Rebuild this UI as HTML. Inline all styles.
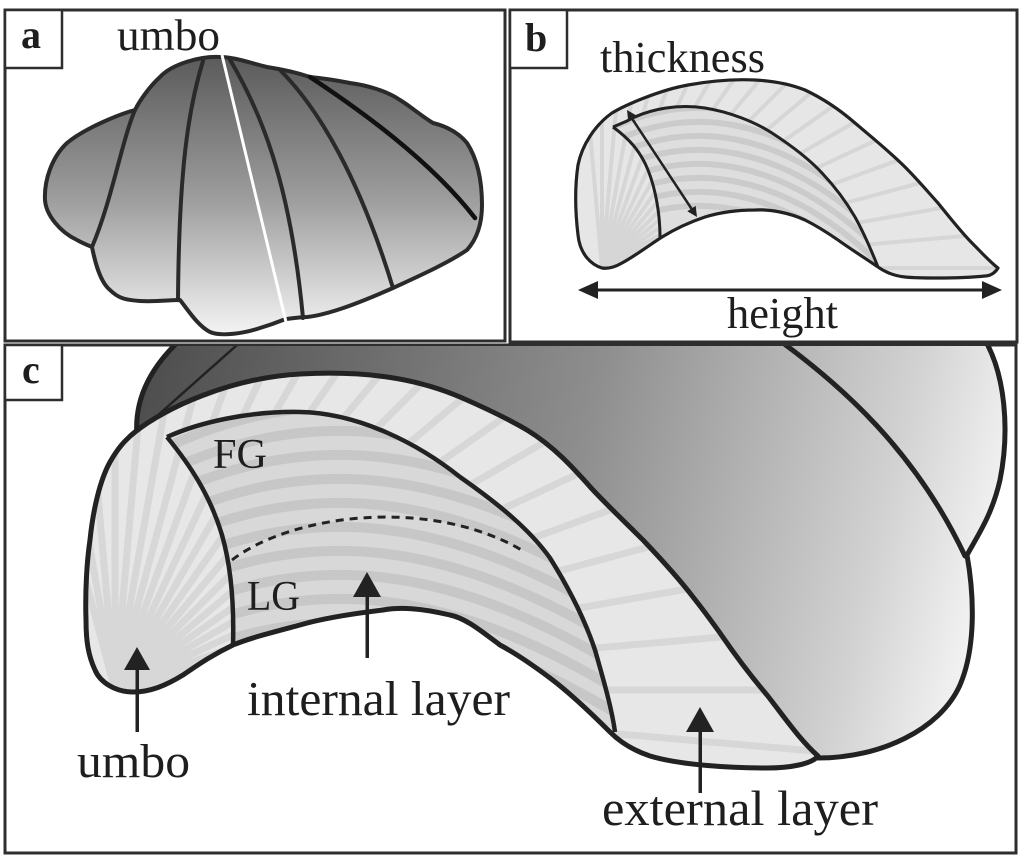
<!DOCTYPE html>
<html><head><meta charset="utf-8"><style>
html,body{margin:0;padding:0;background:#fff;}
svg{display:block;}
text{font-family:"Liberation Serif","Times New Roman",serif;fill:#1e1e1e;}
</style></head><body>
<svg width="1023" height="862" viewBox="0 0 1023 862" xmlns="http://www.w3.org/2000/svg">
<defs>
<linearGradient id="ga" x1="0" y1="60" x2="0" y2="335" gradientUnits="userSpaceOnUse">
<stop offset="0" stop-color="#5c5c5c"/><stop offset="0.5" stop-color="#9c9c9c"/><stop offset="1" stop-color="#f4f4f4"/>
</linearGradient>
<linearGradient id="gc" x1="150" y1="360" x2="1010" y2="560" gradientUnits="userSpaceOnUse">
<stop offset="0" stop-color="#4e4e4e"/><stop offset="0.5" stop-color="#8e8e8e"/><stop offset="0.85" stop-color="#d2d2d2"/><stop offset="1" stop-color="#f8f8f8"/>
</linearGradient>
<clipPath id="clipc"><rect x="6" y="346" width="1009" height="506"/></clipPath>
<clipPath id="valveb"><path d="M 602,268 C 592,265 580,255 578,235 C 575,210 575,185 578,165 C 582,145 595,125 612,113 C 625,105 660,90 688,85 C 710,81 735,79 755,80 C 775,81 790,84 805,90 C 822,98 840,110 855,123 C 875,140 890,152 905,167 C 918,180 928,192 938,203 C 950,218 962,233 972,243 C 982,253 990,262 998,268 C 995,273 990,276 985,276 C 965,278 950,278 938,278 C 925,278 915,278 905,277 C 895,276 885,272 878,267 C 865,258 852,250 838,240 C 825,231 815,225 805,220 C 790,213 770,209 755,210 C 735,210 718,213 705,217 C 690,222 675,229 662,237 C 648,246 635,256 622,263 C 615,267 608,269 602,268 Z"/></clipPath>
<clipPath id="innerb"><path d="M 613,127 L 627,121 C 650,108 680,104 705,108 C 730,112 755,122 772,133 C 795,148 810,160 822,173 C 838,190 848,205 855,217 C 865,235 872,252 878,267 C 865,258 852,250 838,240 C 825,231 815,225 805,220 C 790,213 770,209 755,210 C 735,210 718,213 705,217 C 690,222 675,229 662,237 C 660,215 656,190 648,170 C 640,150 628,138 613,127 Z"/></clipPath>
<clipPath id="valvec"><path d="M 135,432 C 165,408 230,378 300,374 C 370,370 420,380 460,397 C 490,410 510,420 527,430 C 555,447 575,470 593,490 C 610,508 628,525 643,540 C 662,560 680,580 693,597 C 705,612 712,622 720,633 C 735,655 750,675 767,695 C 785,718 800,740 818,756 C 812,764 790,768 767,768 C 730,768 680,765 650,756 C 632,750 620,742 610,732 C 590,712 570,693 550,678 C 530,663 515,653 500,645 C 480,630 465,618 450,615 C 420,608 400,607 383,610 C 350,614 320,619 300,625 C 270,633 250,638 233,645 C 210,656 195,667 183,675 C 165,686 150,692 133,692 C 115,692 100,682 95,670 C 88,655 86,640 86,620 C 85,590 87,560 90,540 C 93,510 100,480 110,462 C 118,448 125,440 135,432 Z"/></clipPath>
<clipPath id="innerc"><path d="M 167,437 C 200,422 250,411 300,412 C 360,413 420,445 460,477 C 500,505 530,530 550,558 C 570,590 585,620 595,650 C 605,685 612,710 615,732 C 595,715 570,693 550,678 C 530,663 515,653 500,645 C 480,630 465,618 450,615 C 420,608 400,607 383,610 C 350,614 320,619 300,625 C 270,633 250,638 233,645 C 234,610 232,570 222,535 C 210,495 190,465 167,437 Z"/></clipPath>
</defs>

<!-- Panel frames -->
<rect x="5" y="10" width="500" height="331" fill="#fff" stroke="#2e2e2e" stroke-width="3"/>
<rect x="510" y="10" width="507" height="332" fill="#fff" stroke="#2e2e2e" stroke-width="3"/>
<rect x="5" y="345" width="1011" height="508" fill="#fff" stroke="#2e2e2e" stroke-width="3"/>

<!-- ===== Panel a ===== -->
<path d="M 220,57 C 200,56 172,64 160,77 C 150,86 140,100 135,110 C 120,114 85,128 67,143 C 52,157 44,180 45,200 C 46,215 60,232 77,240 C 84,244 90,246 92,247 C 95,262 100,282 110,290 C 118,298 125,300 140,301 C 155,302 170,300 180,300 C 188,310 198,326 210,332 C 222,337 245,333 260,328 C 270,325 278,322 283,320 L 287,319 C 295,318 300,317 307,317 C 325,315 350,307 393,288 C 410,280 445,265 467,250 C 476,240 482,225 482,205 C 482,183 478,160 467,143 C 458,132 445,126 433,123 C 420,115 410,106 400,100 C 385,90 365,85 350,83 C 335,80 320,78 310,77 C 295,72 280,69 267,67 C 250,63 235,57 220,57 Z" fill="url(#ga)" stroke="#2a2a2a" stroke-width="4" stroke-linejoin="round"/>
<g fill="none" stroke="#2a2a2a" stroke-width="4" stroke-linecap="round">
<path d="M 135,110 C 122,140 112,200 92,247"/>
<path d="M 203,61 C 188,110 179,170 178,300"/>
<path d="M 229,58 C 260,110 290,180 303,318"/>
<path d="M 280,70 C 320,110 360,180 393,288"/>
<path d="M 310,77 C 360,110 430,160 475,218" stroke="#111" stroke-width="4.5"/>
</g>
<line x1="222" y1="55" x2="286" y2="322" stroke="#fff" stroke-width="3"/>
<rect x="5" y="10" width="57" height="58" fill="#fff" stroke="#2e2e2e" stroke-width="2.5"/>
<text x="21" y="48" font-size="40" font-weight="bold">a</text>
<text x="117" y="50" font-size="44" textLength="103" lengthAdjust="spacingAndGlyphs">umbo</text>

<!-- ===== Panel b ===== -->
<g clip-path="url(#valveb)">
<rect x="570" y="70" width="440" height="215" fill="#e6e6e6"/>
<path d="M602,268 L1102,268 M602,268 L1100,224 M602,268 L1094,181 M602,268 L1085,139 M602,268 L1072,97 M602,268 L1055,57 M602,268 L1035,18 M602,268 L1012,-19 M602,268 L985,-53 M602,268 L956,-86 M602,268 L923,-115 M602,268 L889,-142 M602,268 L852,-165 M602,268 L813,-185 M602,268 L773,-202 M602,268 L731,-215 M602,268 L689,-224 M602,268 L646,-230 M602,268 L602,-232 M602,268 L558,-230 M602,268 L1100,312" stroke="#d6d6d6" stroke-width="4" fill="none"/>
</g>
<g clip-path="url(#innerb)">
<rect x="600" y="95" width="290" height="185" fill="#dedede"/>
<g fill="none" stroke="#cbcbcb" stroke-width="6">
<path d="M 590,140 C 680,85 790,95 900,215"/>
<path d="M 590,154 C 680,99 790,109 900,229"/>
<path d="M 590,168 C 680,113 790,123 900,243"/>
<path d="M 590,182 C 680,127 790,137 900,257"/>
<path d="M 590,196 C 680,141 790,151 900,271"/>
<path d="M 590,210 C 680,155 790,165 900,285"/>
<path d="M 590,224 C 680,169 790,179 900,299"/>
<path d="M 590,238 C 680,183 790,193 900,313"/>
</g>
</g>
<path d="M 602,268 C 592,265 580,255 578,235 C 575,210 575,185 578,165 C 582,145 595,125 612,113 C 625,105 660,90 688,85 C 710,81 735,79 755,80 C 775,81 790,84 805,90 C 822,98 840,110 855,123 C 875,140 890,152 905,167 C 918,180 928,192 938,203 C 950,218 962,233 972,243 C 982,253 990,262 998,268 C 995,273 990,276 985,276 C 965,278 950,278 938,278 C 925,278 915,278 905,277 C 895,276 885,272 878,267 C 865,258 852,250 838,240 C 825,231 815,225 805,220 C 790,213 770,209 755,210 C 735,210 718,213 705,217 C 690,222 675,229 662,237 C 648,246 635,256 622,263 C 615,267 608,269 602,268 Z" fill="none" stroke="#222" stroke-width="3.2" stroke-linejoin="round"/>
<g fill="none" stroke="#222" stroke-width="3">
<path d="M 613,127 L 627,121 C 650,108 680,104 705,108 C 730,112 755,122 772,133 C 795,148 810,160 822,173 C 838,190 848,205 855,217 C 865,235 872,252 878,267"/>
<path d="M 613,127 C 628,138 640,150 648,170 C 656,190 660,215 660,237"/>
</g>
<!-- thickness arrow -->
<line x1="631" y1="117" x2="693" y2="211" stroke="#222" stroke-width="2.5"/>
<polygon points="627,110 636.7,115.7 628.3,121.1" fill="#222"/>
<polygon points="697,217 695.7,205.9 687.3,211.3" fill="#222"/>
<!-- height arrow -->
<line x1="592" y1="290" x2="988" y2="290" stroke="#222" stroke-width="3"/>
<polygon points="578,290 598,281 598,299" fill="#222"/>
<polygon points="1002,290 982,281 982,299" fill="#222"/>
<rect x="510" y="10" width="57" height="58" fill="#fff" stroke="#2e2e2e" stroke-width="2.5"/>
<text x="525" y="51" font-size="40" font-weight="bold">b</text>
<text x="600" y="72" font-size="44" textLength="165" lengthAdjust="spacingAndGlyphs">thickness</text>
<text x="727" y="328" font-size="44" textLength="111" lengthAdjust="spacingAndGlyphs">height</text>

<!-- ===== Panel c ===== -->
<g clip-path="url(#clipc)">
<path d="M 137,436 C 134,400 150,368 180,340 L 985,340 C 1005,375 1010,430 1000,480 C 992,515 978,535 967,555 C 975,600 975,650 960,685 C 940,730 880,758 818,758 L 560,560 L 137,436 Z" fill="url(#gc)"/>
<g fill="none" stroke="#222" stroke-width="5" stroke-linecap="round">
<path d="M 137,436 C 134,400 150,368 180,340"/>
<path d="M 985,340 C 1005,375 1010,430 1000,480 C 992,515 978,535 967,555 C 975,600 975,650 960,685 C 940,730 880,758 818,758"/>
<path d="M 783,343 C 840,385 915,450 965,556"/>
</g>
<line x1="148" y1="424" x2="237" y2="345" stroke="#222" stroke-width="2.5"/>
</g>
<g clip-path="url(#valvec)">
<rect x="80" y="360" width="760" height="420" fill="#e7e7e7"/>
<path d="M115,690 L1111,777 M115,690 L1115,690 M115,690 L1111,603 M115,690 L1100,516 M115,690 L1081,431 M115,690 L1055,348 M115,690 L1021,267 M115,690 L981,190 M115,690 L934,116 M115,690 L881,47 M115,690 L822,-17 M115,690 L758,-76 M115,690 L689,-129 M115,690 L615,-176 M115,690 L538,-216 M115,690 L457,-250 M115,690 L374,-276 M115,690 L289,-295 M115,690 L202,-306 M115,690 L115,-310 M115,690 L28,-306 M115,690 L-59,-295 M115,690 L-144,-276" stroke="#d7d7d7" stroke-width="7" fill="none"/>
</g>
<g clip-path="url(#innerc)">
<rect x="160" y="400" width="470" height="340" fill="#d8d8d8"/>
<g fill="none" stroke="#c7c7c7" stroke-width="10">
<path d="M 150,431 C 300,356 450,361 660,501"/>
<path d="M 150,455 C 300,380 450,385 660,525"/>
<path d="M 150,479 C 300,404 450,409 660,549"/>
<path d="M 150,503 C 300,428 450,433 660,573"/>
<path d="M 150,527 C 300,452 450,457 660,597"/>
<path d="M 150,551 C 300,476 450,481 660,621"/>
<path d="M 150,575 C 300,500 450,505 660,645"/>
<path d="M 150,599 C 300,524 450,529 660,669"/>
<path d="M 150,623 C 300,548 450,553 660,693"/>
<path d="M 150,647 C 300,572 450,577 660,717"/>
<path d="M 150,671 C 300,596 450,601 660,741"/>
<path d="M 150,695 C 300,620 450,625 660,765"/>
</g>
</g>
<!-- valve outline -->
<path d="M 135,432 C 165,408 230,378 300,374 C 370,370 420,380 460,397 C 490,410 510,420 527,430 C 555,447 575,470 593,490 C 610,508 628,525 643,540 C 662,560 680,580 693,597 C 705,612 712,622 720,633 C 735,655 750,675 767,695 C 785,718 800,740 818,756 C 812,764 790,768 767,768 C 730,768 680,765 650,756 C 632,750 620,742 610,732 C 590,712 570,693 550,678 C 530,663 515,653 500,645 C 480,630 465,618 450,615 C 420,608 400,607 383,610 C 350,614 320,619 300,625 C 270,633 250,638 233,645 C 210,656 195,667 183,675 C 165,686 150,692 133,692 C 115,692 100,682 95,670 C 88,655 86,640 86,620 C 85,590 87,560 90,540 C 93,510 100,480 110,462 C 118,448 125,440 135,432 Z" fill="none" stroke="#222" stroke-width="5" stroke-linejoin="round"/>
<g fill="none" stroke="#222" stroke-width="4.5">
<path d="M 167,437 C 200,422 250,411 300,412 C 360,413 420,445 460,477 C 500,505 530,530 550,558 C 570,590 585,620 595,650 C 605,685 612,710 615,732"/>
<path d="M 167,437 C 190,465 210,495 222,535 C 232,570 234,610 233,645"/>
</g>
<path d="M 232,560 C 290,515 430,495 525,552" fill="none" stroke="#222" stroke-width="3" stroke-dasharray="8,6"/>
<!-- arrows c -->
<g fill="#222">
<rect x="135.5" y="665" width="3.5" height="67"/>
<polygon points="137,647 124,670 150,670"/>
<rect x="365.5" y="590" width="3.5" height="68"/>
<polygon points="367,572 353,597 381,597"/>
<rect x="698.5" y="725" width="3.5" height="68"/>
<polygon points="700,707 686,732 714,732"/>
</g>
<rect x="5" y="345" width="57" height="55" fill="#fff" stroke="#2e2e2e" stroke-width="2.5"/>
<text x="22" y="383" font-size="40" font-weight="bold">c</text>
<text x="213" y="468" font-size="42" textLength="54" lengthAdjust="spacingAndGlyphs">FG</text>
<text x="247" y="610" font-size="42" textLength="53" lengthAdjust="spacingAndGlyphs">LG</text>
<text x="247" y="715" font-size="49" textLength="263" lengthAdjust="spacingAndGlyphs">internal layer</text>
<text x="77" y="777" font-size="48" textLength="113" lengthAdjust="spacingAndGlyphs">umbo</text>
<text x="602" y="825" font-size="50" textLength="276" lengthAdjust="spacingAndGlyphs">external layer</text>
</svg>
</body></html>
